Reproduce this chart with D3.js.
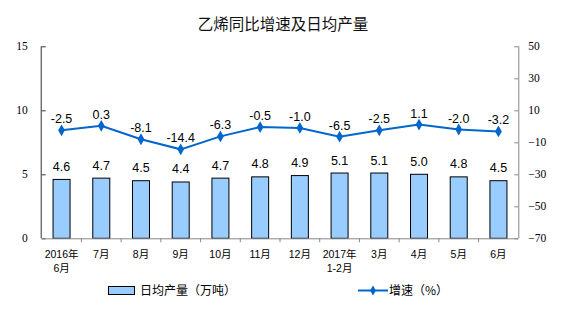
<!DOCTYPE html>
<html><head><meta charset="utf-8">
<script src="https://cdn.jsdelivr.net/npm/d3@7"></script>
<style>
body{margin:0;background:#fff;}
svg{display:block;}
</style></head>
<body>
<svg id="c" width="563" height="326"></svg>
<script>
const categories = ["2016年\n6月","7月","8月","9月","10月","11月","12月","2017年\n1-2月","3月","4月","5月","6月"];
const output = [4.6,4.7,4.5,4.4,4.7,4.8,4.9,5.1,5.1,5.0,4.8,4.5];
const growth = [-2.5,0.3,-8.1,-14.4,-6.3,-0.5,-1.0,-6.5,-2.5,1.1,-2.0,-3.2];
const leftTicks = [0,5,10,15];
const rightTicks = [-70,-50,-30,-10,10,30,50];
const title = "乙烯同比增速及日均产量";
const legendBar = "日均产量（万吨）";
const legendLine = "增速（%）";

const svg = d3.select("#c");
const L = 41.7, R = 518.3, T = 46.3, B = 238.3;
const cjk = "'Liberation Sans','Noto Sans CJK SC',sans-serif";
const serif = "'Liberation Serif','DejaVu Serif',serif";

const x = d3.scaleBand().domain(categories).range([L, R]).paddingInner(0.57).paddingOuter(0.285);
const xb = d3.scaleBand().domain(categories).range([L, R]);
const yL = d3.scaleLinear().domain([0,15]).range([B, T]);
const yR = d3.scaleLinear().domain([-70,50]).range([B, T]);

// title
svg.append("text").attr("x", 283).attr("y", 30).attr("text-anchor","middle")
  .style("font-family","'Noto Sans CJK SC',sans-serif").style("font-size","15.5px").attr("fill","#111")
  .text(title);

// bars
svg.selectAll("rect.bar").data(output).enter().append("rect")
  .attr("x",(d,i)=>xb(categories[i]) + xb.bandwidth()/2 - 8.5)
  .attr("width",17)
  .attr("y",d=>yL(d)).attr("height",d=>B - yL(d))
  .attr("fill","#99CCFF").attr("stroke","#000").attr("stroke-width",1);

svg.selectAll("text.bl").data(output).enter().append("text")
  .attr("x",(d,i)=>xb(categories[i]) + xb.bandwidth()/2)
  .attr("y",d=>yL(d)-8.5)
  .attr("text-anchor","middle").style("font-family","'Liberation Sans',Arial,sans-serif")
  .style("font-size","12.5px").attr("fill","#000").text(d=>d.toFixed(1));

// left axis
const gl = svg.append("g").attr("transform",`translate(${L},0)`)
  .call(d3.axisLeft(yL).tickValues(leftTicks).tickSize(-4).tickPadding(14).tickFormat(d3.format("d")));
gl.select(".domain").attr("stroke","#333").attr("d",`M-0.5,${B}V${T}`);
gl.selectAll(".tick line").attr("stroke","#333");
gl.selectAll(".tick text").style("font-family",serif).style("font-size","11.5px").attr("fill","#000");

// right axis
const gr = svg.append("g").attr("transform",`translate(${R},0)`)
  .call(d3.axisRight(yR).tickValues(rightTicks).tickSize(-4).tickPadding(10).tickFormat(d3.format("d")));
gr.select(".domain").attr("stroke","#888").attr("d",`M0.5,${B}V${T}`);
gr.selectAll(".tick line").attr("stroke","#888");
gr.selectAll(".tick text").style("font-family",serif).style("font-size","11.5px").attr("fill","#000");

// bottom axis
const bounds = categories.map(c=>xb(c)).concat([R]);
const gb = svg.append("g");
gb.append("line").attr("x1",L).attr("x2",R).attr("y1",B+0.5).attr("y2",B+0.5).attr("stroke","#888");
gb.selectAll("line.t").data(bounds.slice(1,-1)).enter().append("line")
  .attr("x1",d=>d).attr("x2",d=>d).attr("y1",B).attr("y2",B+4).attr("stroke","#888");
categories.forEach((c,i)=>{
  const lines = c.split("\n");
  const t = gb.append("text").attr("text-anchor","middle")
    .style("font-family",cjk).style("font-size","10.5px").attr("fill","#000");
  lines.forEach((ln,k)=>{
    t.append("tspan").attr("x", xb(c)+xb.bandwidth()/2).attr("y", 258 + k*14).text(ln);
  });
});

// line
const line = d3.line().x((d,i)=>xb(categories[i])+xb.bandwidth()/2).y(d=>yR(d));
svg.append("path").datum(growth).attr("d",line).attr("fill","none")
  .attr("stroke","#0066CC").attr("stroke-width",2);
svg.selectAll("path.m").data(growth).enter().append("path")
  .attr("d",d3.symbol().type(d3.symbolDiamond).size(40))
  .attr("transform",(d,i)=>`translate(${xb(categories[i])+xb.bandwidth()/2},${yR(d)}) rotate(0)`)
  .attr("fill","#0066CC");
svg.selectAll("text.ll").data(growth).enter().append("text")
  .attr("x",(d,i)=>xb(categories[i])+xb.bandwidth()/2)
  .attr("y",d=>yR(d)-7)
  .attr("text-anchor","middle").style("font-family","'Liberation Sans',Arial,sans-serif")
  .style("font-size","12.5px").attr("fill","#000").text(d=>d.toFixed(1));

// legend
svg.append("rect").attr("x",108.5).attr("y",286.5).attr("width",26).attr("height",8)
  .attr("fill","#99CCFF").attr("stroke","#000");
svg.append("text").attr("x",140).attr("y",295).style("font-family","'Noto Sans CJK SC',sans-serif")
  .style("font-size","12px").attr("fill","#000").text(legendBar);
svg.append("line").attr("x1",358).attr("x2",388).attr("y1",290.5).attr("y2",290.5)
  .attr("stroke","#0066CC").attr("stroke-width",2);
svg.append("path").attr("d",d3.symbol().type(d3.symbolDiamond).size(30))
  .attr("transform","translate(373,290.5)").attr("fill","#0066CC");
svg.append("text").attr("x",389).attr("y",295).style("font-family","'Noto Sans CJK SC',sans-serif")
  .style("font-size","12px").attr("fill","#000").text(legendLine);
</script>
</body></html>
